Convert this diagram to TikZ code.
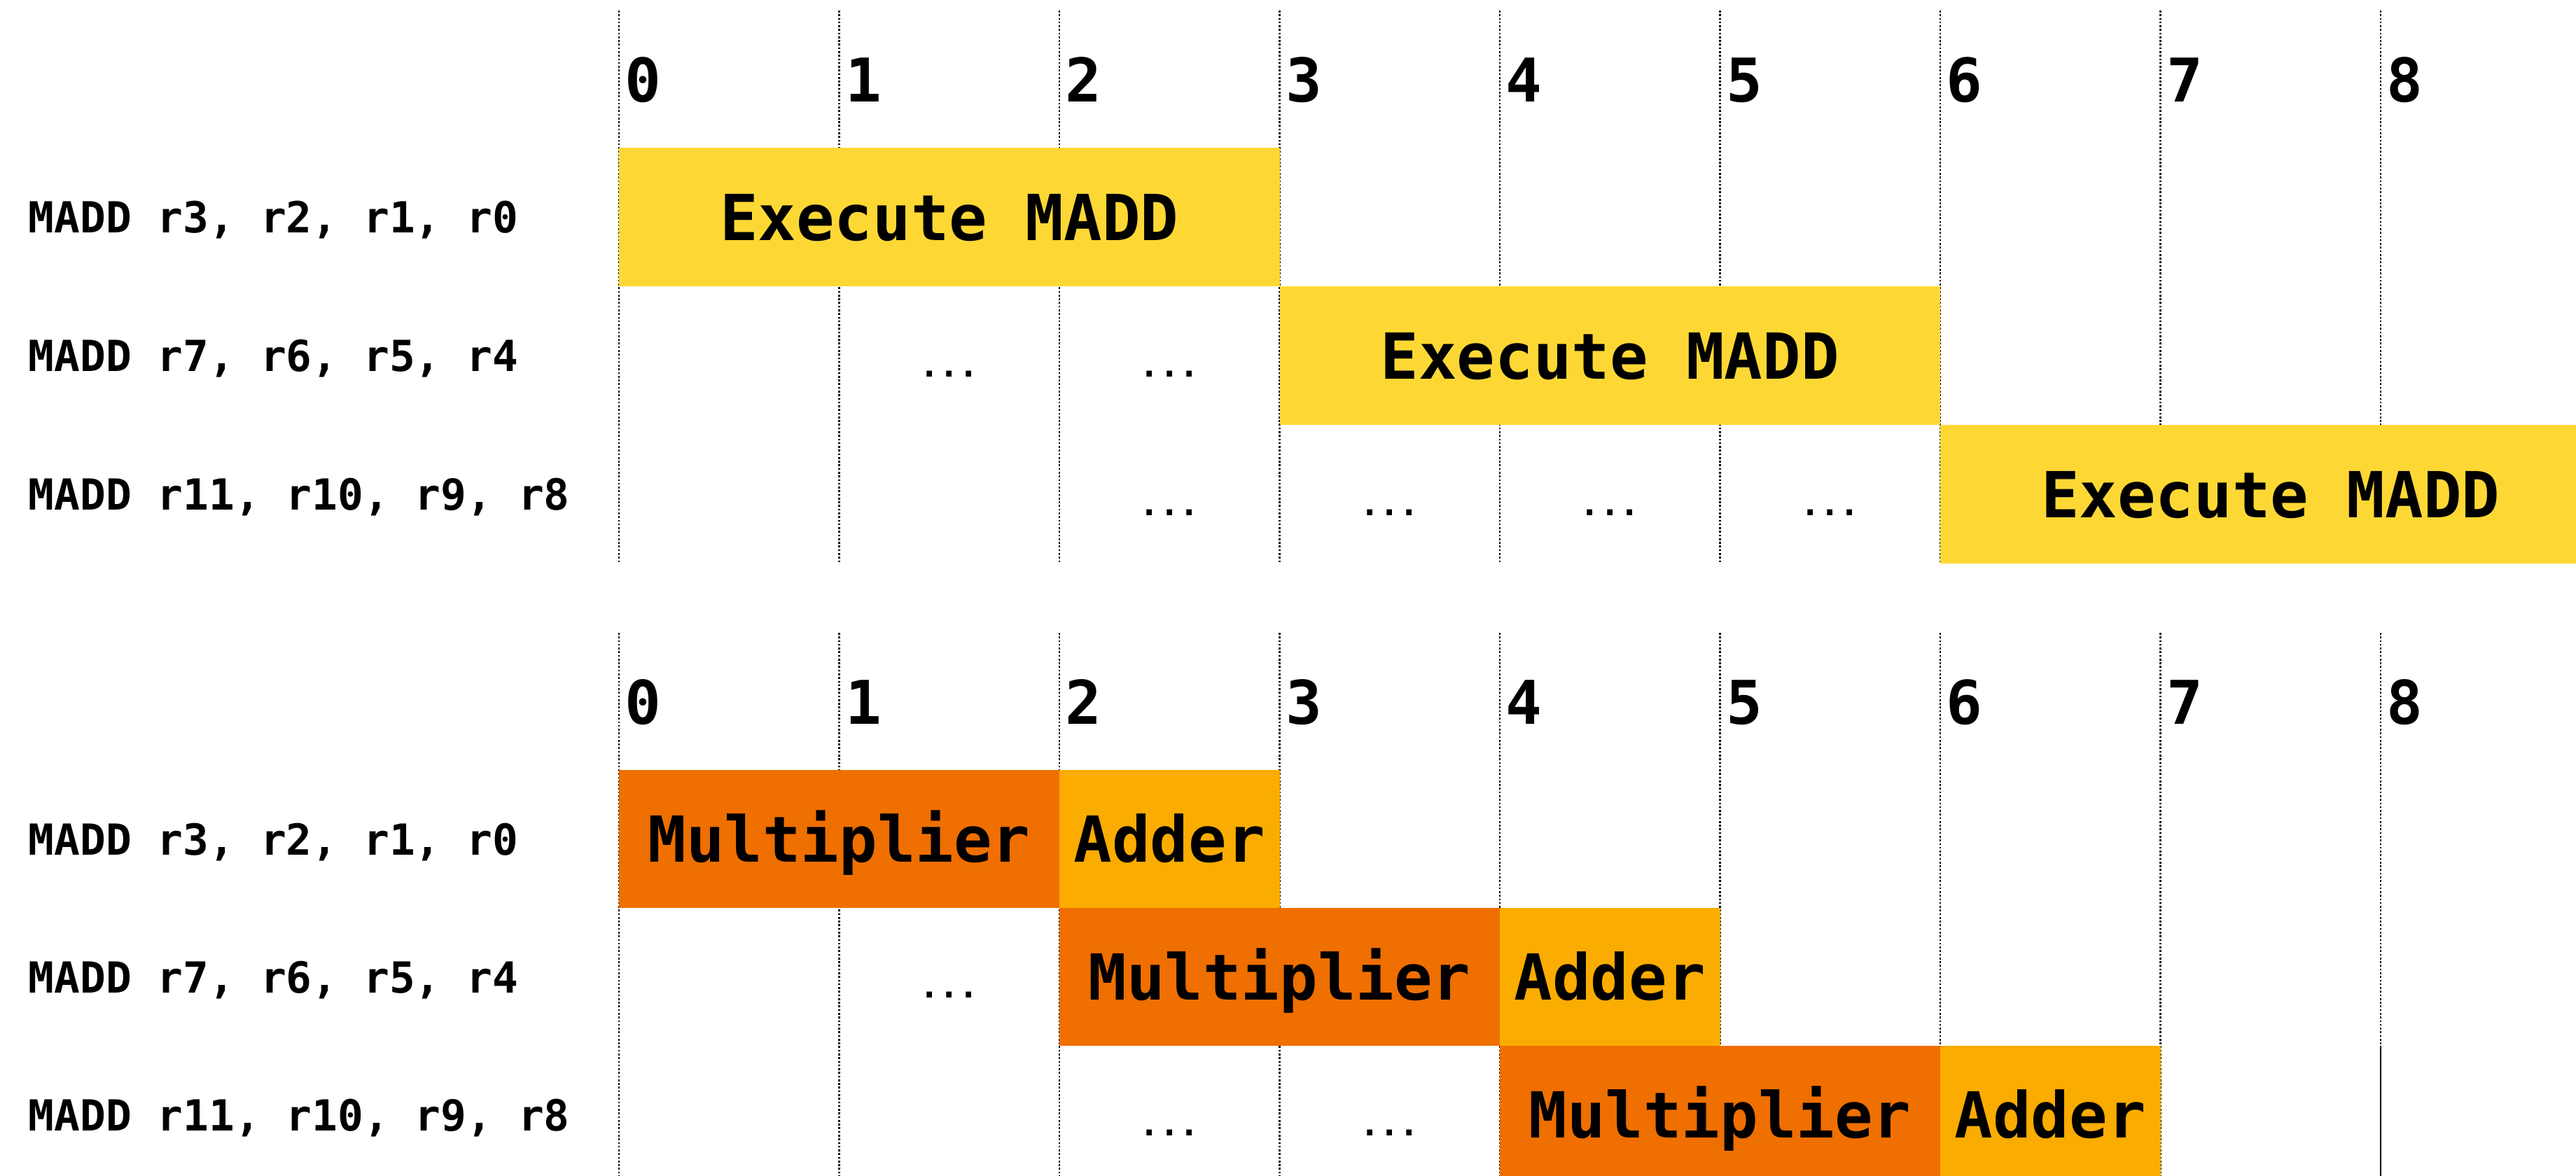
\documentclass[tikz,border=0pt]{standalone}
\usepackage{fontspec}
\usepackage{tikz}
\setmonofont{DejaVu Sans Mono}[RawFeature=+zero]
\definecolor{mdYellow}{HTML}{FDD835}
\definecolor{mdOrange}{HTML}{EF6F00}
\definecolor{mdAmber}{HTML}{FBAC00}
\colorlet{execC}{mdYellow}
\colorlet{mulC}{mdOrange}
\colorlet{addC}{mdAmber}

\begin{document}
\begin{tikzpicture}[x=1cm,y=1cm]
    \tikzstyle{gridline}=[line width=0.7pt, dash pattern=on 0.75pt off 0.75pt]
    \tikzstyle{stage}=[draw=none, inner sep=0pt, minimum height=1.98cm,
      font=\fontsize{25.8}{30}\selectfont\ttfamily\bfseries, text height=18.8pt, text depth=0pt]
    \tikzstyle{instr}=[anchor=base west, inner sep=0pt, font=\fontsize{17.4}{20}\selectfont\ttfamily\bfseries]
    \tikzstyle{cyclenum}=[anchor=base west, inner sep=0pt, font=\fontsize{24.5}{28}\selectfont\ttfamily\bfseries]
    \tikzstyle{waiting}=[anchor=base, inner sep=0pt, font=\fontsize{13.4}{16}\selectfont\ttfamily\bfseries]

    \useasboundingbox (0,0) rectangle (36.79,-16.80);
    \clip (0,0) rectangle (36.79,-16.80);

    % cycle grid
    \foreach \i in {0,...,8} {
      \draw[gridline] (8.84+3.145*\i,-0.15) -- (8.84+3.145*\i,-8.05);
      \node[cyclenum] (ta\i) at (8.92+3.145*\i,-1.45) {\i};
      \node[cyclenum] (tb\i) at (8.92+3.145*\i,-10.34) {\i};
    }
    \foreach \i in {0,...,7}
      \draw[gridline] (8.84+3.145*\i,-9.04) -- (8.84+3.145*\i,-16.80);
    \draw[gridline] (34.0,-9.04) -- (34.0,-14.94);
    \draw[line width=0.7pt] (34.0,-14.94) -- (34.0,-16.80);

    % single MADD unit
    \node[instr] (ia1) at (0.40,-3.325) {MADD r3, r2, r1, r0};
    \node[instr] (ia2) at (0.40,-5.305) {MADD r7, r6, r5, r4};
    \node[instr] (ia3) at (0.40,-7.285) {MADD r11, r10, r9, r8};

    \node[stage, fill=execC, minimum width=9.435cm] (ea1) at (13.5575,-3.10) {Execute MADD};
    \node[stage, fill=execC, minimum width=9.435cm] (ea2) at (22.9925,-5.08) {Execute MADD};
    \node[stage, fill=execC, minimum width=9.435cm] (ea3) at (32.4275,-7.06) {Execute MADD};

    \node[waiting] (wa1) at (13.5575,-5.38) {...};
    \node[waiting] (wa2) at (16.7025,-5.38) {...};
    \node[waiting] (wa3) at (16.7025,-7.36) {...};
    \node[waiting] (wa4) at (19.8475,-7.36) {...};
    \node[waiting] (wa5) at (22.9925,-7.36) {...};
    \node[waiting] (wa6) at (26.1375,-7.36) {...};

    % split multiplier / adder
    \node[instr] (ib1) at (0.40,-12.21) {MADD r3, r2, r1, r0};
    \node[instr] (ib2) at (0.40,-14.18) {MADD r7, r6, r5, r4};
    \node[instr] (ib3) at (0.40,-16.15) {MADD r11, r10, r9, r8};

    \node[stage, fill=mulC, minimum width=6.29cm, minimum height=1.97cm] (mb1) at (11.985,-11.985) {Multiplier};
    \node[stage, fill=addC, minimum width=3.145cm, minimum height=1.97cm] (ab1) at (16.7025,-11.985) {Adder};
    \node[stage, fill=mulC, minimum width=6.29cm, minimum height=1.97cm] (mb2) at (18.275,-13.955) {Multiplier};
    \node[stage, fill=addC, minimum width=3.145cm, minimum height=1.97cm] (ab2) at (22.9925,-13.955) {Adder};
    \node[stage, fill=mulC, minimum width=6.29cm, minimum height=1.97cm] (mb3) at (24.565,-15.925) {Multiplier};
    \node[stage, fill=addC, minimum width=3.145cm, minimum height=1.97cm] (ab3) at (29.2825,-15.925) {Adder};

    \node[waiting] (wb1) at (13.5575,-14.255) {...};
    \node[waiting] (wb2) at (16.7025,-16.225) {...};
    \node[waiting] (wb3) at (19.8475,-16.225) {...};
\end{tikzpicture}
\end{document}
